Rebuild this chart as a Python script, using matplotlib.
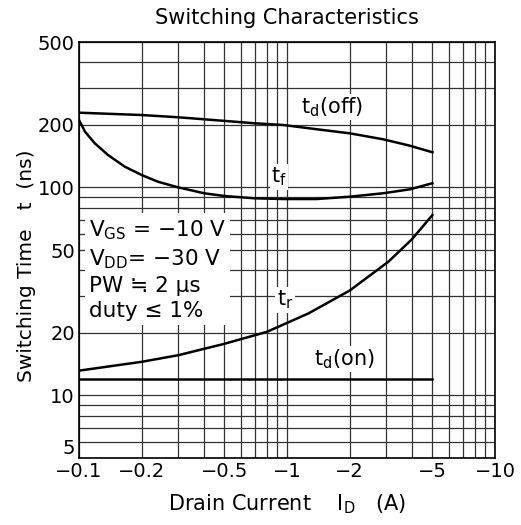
import numpy as np
import matplotlib.pyplot as plt

# datos (|I_D| en A, tiempos en ns)
id_off = [0.1, 0.2, 0.3, 0.4, 0.7, 0.96, 1.39, 2.0, 2.9, 3.9, 5.0]
td_off = [228.6, 222.8, 217.3, 212.5, 203.3, 199.5, 190.3, 182.0, 170.3, 158.6, 147.5]

id_f = [0.1, 0.107, 0.119, 0.138, 0.166, 0.2, 0.24, 0.3, 0.4, 0.5, 0.7, 0.96, 1.39, 2.0, 2.9, 3.9, 5.0]
t_f = [211, 185, 163, 143, 125.8, 114.7, 106.4, 100.0, 93.7, 90.9, 88.6, 87.9, 87.9, 90.2, 93.7, 97.9, 104.7]

id_r = [0.1, 0.2, 0.3, 0.5, 0.8, 1.27, 2.0, 3.07, 3.98, 5.0]
t_r = [13.15, 14.5, 15.6, 17.7, 20.2, 24.8, 31.9, 43.9, 56.2, 73.6]

id_on = [0.1, 5.0]
td_on = [11.95, 11.95]

xticks = [0.1, 0.2, 0.5, 1, 2, 5, 10]
xlabels = ["\u22120.1", "\u22120.2", "\u22120.5", "\u22121", "\u22122", "\u22125", "\u221210"]
yticks = [5, 10, 20, 50, 100, 200, 500]

plt.rcParams['font.family'] = ['DejaVu Sans']
plt.rcParams['mathtext.fontset'] = 'dejavusans'

fig = plt.figure(figsize=(5.21, 5.25), dpi=100)
ax = fig.add_axes([79/521, 67/525, 416/521, 416/525])
ax.set_xscale('log')
ax.set_yscale('log')
ax.set_xlim(0.1, 10)
ax.set_ylim(5, 500)

# rejilla completa
xg = list(np.arange(1, 10) * 0.1) + list(np.arange(1, 11) * 1.0)
yg = list(range(5, 10)) + list(range(10, 100, 10)) + list(range(100, 600, 100))
for v in xg:
    ax.axvline(v, color='#333333', lw=0.9, zorder=1)
for v in yg:
    ax.axhline(v, color='#333333', lw=0.9, zorder=1)

lw = 1.8
ax.plot(id_off, td_off, 'k-', lw=lw, zorder=3)
ax.plot(id_f, t_f, 'k-', lw=lw, zorder=3)
ax.plot(id_r, t_r, 'k-', lw=lw, zorder=3)
ax.plot(id_on, td_on, 'k-', lw=lw, zorder=3)

box = dict(facecolor='white', edgecolor='none', pad=1)
ax.text(1.645, 243, r"t$_{\mathrm{d}}$(off)", fontsize=15, ha='center', va='center', bbox=box, zorder=4)
ax.text(0.915, 112, r"t$_{\mathrm{f}}$", fontsize=15, ha='center', va='center', bbox=box, zorder=4)
ax.text(0.978, 28.7, r"t$_{\mathrm{r}}$", fontsize=15, ha='center', va='center', bbox=box, zorder=4)
ax.text(1.88, 15.0, r"t$_{\mathrm{d}}$(on)", fontsize=15, ha='center', va='center', bbox=box, zorder=4)

cond = ("V$_{\\mathrm{GS}}$ = \u221210 V\n"
        "V$_{\\mathrm{DD}}$= \u221230 V\n"
        "PW \u2252 2 \u00b5s\n"
        "duty \u2264 1%")
ax.text(0.024, 0.575, cond, transform=ax.transAxes, fontsize=15.5, ha='left', va='top',
        linespacing=1.3, bbox=dict(facecolor='white', edgecolor='none', pad=3), zorder=4)

ax.set_xticks(xticks)
ax.set_xticklabels(xlabels)
ax.set_yticks(yticks)
ax.set_yticklabels([str(v) for v in yticks])
ax.get_yticklabels()[0].set_va('bottom')
ax.xaxis.set_minor_locator(plt.NullLocator())
ax.yaxis.set_minor_locator(plt.NullLocator())
ax.tick_params(length=0, labelsize=14, pad=3)
for s in ax.spines.values():
    s.set_linewidth(1.2)

ax.set_title("Switching Characteristics", fontsize=15, pad=13)
ax.set_xlabel(r"Drain Current    I$_{\mathrm{D}}$   (A)", fontsize=15, labelpad=8)
ax.set_ylabel("Switching Time   t  (ns)", fontsize=14.5)
ax.yaxis.set_label_coords(-0.103, 0.4615)

fig.savefig("out.png", dpi=100)
